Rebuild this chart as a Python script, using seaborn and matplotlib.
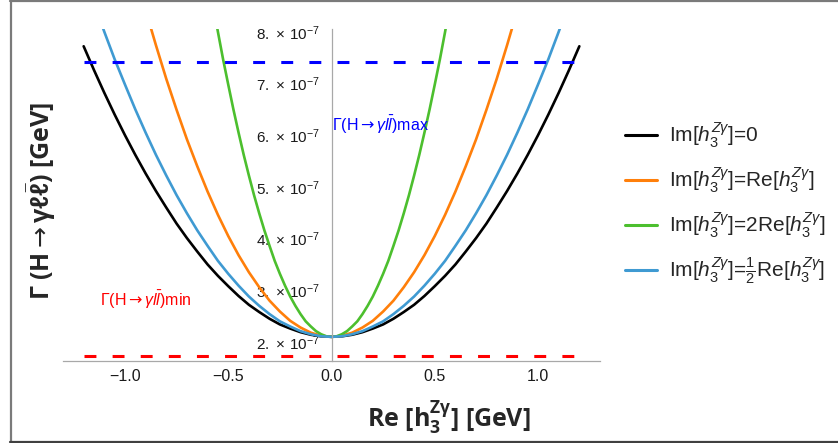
import matplotlib
matplotlib.use("Agg")
import matplotlib.pyplot as plt
from matplotlib.lines import Line2D
from matplotlib.ticker import FixedLocator, MultipleLocator, FuncFormatter
import seaborn as sns
import pandas as pd

# ---------------- data (Gamma in units of 1e-7 GeV) ----------------
x_wide = [-1.2, -1.15, -1.1, -1.05, -1.0, -0.95, -0.9, -0.85, -0.8, -0.75, -0.7, -0.65,
          -0.6, -0.55, -0.5, -0.45, -0.4, -0.35, -0.3, -0.25, -0.2, -0.15, -0.1, -0.05,
          0.0, 0.05, 0.1, 0.15, 0.2, 0.25, 0.3, 0.35, 0.4, 0.45, 0.5, 0.55, 0.6, 0.65,
          0.7, 0.75, 0.8, 0.85, 0.9, 0.95, 1.0, 1.05, 1.1, 1.15, 1.2]
gamma_im0 = [7.72, 7.26, 6.82, 6.40, 6.00, 5.62, 5.26, 4.92, 4.60, 4.29, 4.01, 3.75,
             3.50, 3.28, 3.08, 2.89, 2.72, 2.58, 2.45, 2.34, 2.26, 2.19, 2.14, 2.11,
             2.10, 2.11, 2.14, 2.19, 2.26, 2.34, 2.45, 2.58, 2.72, 2.89, 3.08, 3.28, 3.50, 3.75,
             4.01, 4.29, 4.60, 4.92, 5.26, 5.62, 6.00, 6.40, 6.82, 7.26, 7.72]
gamma_im_half = [9.12, 8.55, 8.00, 7.47, 6.98, 6.50, 6.05, 5.62, 5.22, 4.84, 4.49, 4.16,
                 3.86, 3.57, 3.32, 3.09, 2.88, 2.70, 2.54, 2.40, 2.30, 2.21, 2.15, 2.11,
                 2.10, 2.11, 2.15, 2.21, 2.30, 2.40, 2.54, 2.70, 2.88, 3.09, 3.32, 3.57, 3.86, 4.16,
                 4.49, 4.84, 5.22, 5.62, 6.05, 6.50, 6.98, 7.47, 8.00, 8.55, 9.12]

x_orange = [-0.9, -0.85, -0.8, -0.75, -0.7, -0.65, -0.6, -0.55, -0.5, -0.45, -0.4, -0.35,
            -0.3, -0.25, -0.2, -0.15, -0.1, -0.05, 0.0, 0.05, 0.1, 0.15, 0.2, 0.25, 0.3,
            0.35, 0.4, 0.45, 0.5, 0.55, 0.6, 0.65, 0.7, 0.75, 0.8, 0.85, 0.9]
gamma_im_re = [8.42, 7.74, 7.09, 6.49, 5.92, 5.40, 4.91, 4.46, 4.05, 3.68, 3.35, 3.06,
               2.80, 2.59, 2.41, 2.28, 2.18, 2.12, 2.10, 2.12, 2.18, 2.28, 2.41, 2.59, 2.80,
               3.06, 3.35, 3.68, 4.05, 4.46, 4.91, 5.40, 5.92, 6.49, 7.09, 7.74, 8.42]

x_green = [-0.6, -0.575, -0.55, -0.525, -0.5, -0.475, -0.45, -0.425, -0.4, -0.375, -0.35,
           -0.325, -0.3, -0.275, -0.25, -0.225, -0.2, -0.175, -0.15, -0.125, -0.1, -0.075,
           -0.05, -0.025, 0.0, 0.025, 0.05, 0.075, 0.1, 0.125, 0.15, 0.175, 0.2, 0.225, 0.25,
           0.275, 0.3, 0.325, 0.35, 0.375, 0.4, 0.425, 0.45, 0.475, 0.5, 0.525, 0.55, 0.575, 0.6]
gamma_im_2re = [9.12, 8.55, 8.00, 7.47, 6.98, 6.50, 6.05, 5.62, 5.22, 4.84, 4.49,
                4.16, 3.86, 3.57, 3.32, 3.09, 2.88, 2.70, 2.54, 2.40, 2.30, 2.21,
                2.15, 2.11, 2.10, 2.11, 2.15, 2.21, 2.30, 2.40, 2.54, 2.70, 2.88, 3.09, 3.32,
                3.57, 3.86, 4.16, 4.49, 4.84, 5.22, 5.62, 6.05, 6.50, 6.98, 7.47, 8.00, 8.55, 9.12]

gamma_max = 7.41
gamma_min = 1.735
bound_x = [-1.2, 1.2]

series_labels = [r'Im[$h_3^{Z\gamma}$]=0',
                 r'Im[$h_3^{Z\gamma}$]=Re[$h_3^{Z\gamma}$]',
                 r'Im[$h_3^{Z\gamma}$]=2Re[$h_3^{Z\gamma}$]',
                 r'Im[$h_3^{Z\gamma}$]=$\frac{1}{2}$Re[$h_3^{Z\gamma}$]']
series_colors = ['#000000', '#FF7F0A', '#4CBF2E', '#3F9AD2']

y_ticks = [2, 3, 4, 5, 6, 7, 8]
x_ticks = [-1.0, -0.5, 0.0, 0.5, 1.0]
x_tick_labels = ['\u22121.0', '\u22120.5', '0.0', '0.5', '1.0']

# ---------------- styling ----------------
sns.set_style('white')
plt.rcParams['font.family'] = ['Liberation Sans', 'DejaVu Sans']
plt.rcParams['mathtext.fontset'] = 'custom'
plt.rcParams['mathtext.rm'] = 'Liberation Sans'
plt.rcParams['mathtext.it'] = 'Liberation Sans:italic'
plt.rcParams['mathtext.bf'] = 'Open Sans:bold'
plt.rcParams['mathtext.sf'] = 'DejaVu Sans'
plt.rcParams['lines.solid_joinstyle'] = 'round'

fig = plt.figure(figsize=(8.38, 4.43), dpi=100)
ax = fig.add_axes([63 / 838, (443 - 361) / 443, 537 / 838, 332 / 443])

df = pd.concat([
    pd.DataFrame({'re': x_wide, 'gamma': gamma_im0, 'case': series_labels[0]}),
    pd.DataFrame({'re': x_orange, 'gamma': gamma_im_re, 'case': series_labels[1]}),
    pd.DataFrame({'re': x_green, 'gamma': gamma_im_2re, 'case': series_labels[2]}),
    pd.DataFrame({'re': x_wide, 'gamma': gamma_im_half, 'case': series_labels[3]}),
], ignore_index=True)

sns.lineplot(data=df, x='re', y='gamma', hue='case', hue_order=series_labels,
             palette=series_colors, linewidth=1.9, legend=False, ax=ax,
             estimator=None, sort=True)

sns.lineplot(x=bound_x, y=[gamma_max, gamma_max], color='#0000FF', linewidth=2.2, ax=ax)
ax.lines[-1].set_dashes((3.9, 5.3))
sns.lineplot(x=bound_x, y=[gamma_min, gamma_min], color='#FF0000', linewidth=2.2, ax=ax)
ax.lines[-1].set_dashes((3.9, 5.3))

ax.set_xlim(-1.3, 1.3)
ax.set_ylim(1.6325, 8.054)

for s in ['top', 'right']:
    ax.spines[s].set_visible(False)
ax.spines['left'].set_position(('data', 0))
for s in ['left', 'bottom']:
    ax.spines[s].set_color('#A8A8A8')
    ax.spines[s].set_linewidth(0.9)

ax.xaxis.set_major_locator(FixedLocator(x_ticks))
ax.set_xticklabels(x_tick_labels)
ax.xaxis.set_minor_locator(MultipleLocator(0.1))
ax.yaxis.set_major_locator(FixedLocator(y_ticks))
ax.yaxis.set_major_formatter(FuncFormatter(lambda v, p: r'$%d.\,\times\,10^{-7}$' % round(v)))
ax.yaxis.set_minor_locator(MultipleLocator(0.2))
ax.tick_params(axis='both', which='major', direction='in', length=4.5, width=0.8,
               color='#A8A8A8', labelsize=11.5, labelcolor='#1a1a1a')
ax.tick_params(axis='both', which='minor', direction='in', length=2.5, width=0.6,
               color='#C0C0C0')
ax.tick_params(axis='x', pad=6)
ax.tick_params(axis='y', pad=8, labelsize=11)
ax.set_xlabel('')
ax.set_ylabel('')

ax.text(0.0, 6.2, r'$\Gamma$(H$\mathsf{\rightarrow}\gamma l\bar{l}$)max', color='#0000FF',
        fontsize=11.5, ha='left', va='center')
ax.text(-1.12, 2.81, r'$\Gamma$(H$\mathsf{\rightarrow}\gamma l\bar{l}$)min', color='#FF0000',
        fontsize=11.5, ha='left', va='center')

fig.text(449 / 838, 1 - 418 / 443, r'Re [$\mathbf{h_3^{Z\gamma}}$] [GeV]',
         family=['Open Sans', 'DejaVu Sans'], fontweight='bold', fontsize=18,
         ha='center', va='center')
fig.text(41 / 838, 1 - 201 / 443,
         '\u0393 (H' + r'$\mathsf{\rightarrow}\mathbf{\gamma\ell\bar{\ell}}$) [GeV]',
         family=['Open Sans', 'DejaVu Sans'], fontweight='bold', fontsize=18,
         ha='center', va='center', rotation=90)

handles = [Line2D([], [], color=c, linewidth=2.2) for c in series_colors]
fig.legend(handles, series_labels, loc='center left',
           bbox_to_anchor=(606 / 838, 1 - 203.5 / 443), frameon=False, fontsize=15,
           handlelength=1.55, handletextpad=0.55, labelspacing=0.74)

# outer frame (left, top, bottom edges)
fig.add_artist(Line2D([10.5 / 838, 10.5 / 838], [0.002, 0.998], transform=fig.transFigure,
                      color='#7a7a7a', linewidth=1.6))
fig.add_artist(Line2D([10 / 838, 1.0], [0.998, 0.998], transform=fig.transFigure,
                      color='#7a7a7a', linewidth=1.6))
fig.add_artist(Line2D([10 / 838, 1.0], [0.002, 0.002], transform=fig.transFigure,
                      color='#404040', linewidth=1.6))

fig.savefig('out.png', dpi=100)
